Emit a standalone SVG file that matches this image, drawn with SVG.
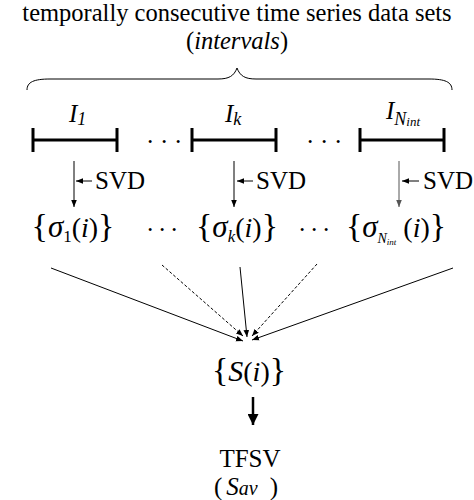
<svg xmlns="http://www.w3.org/2000/svg" width="474" height="500" viewBox="0 0 474 500">
  <defs>
    <style>
      text { font-family: "Liberation Serif", "Times New Roman", serif; fill: #000; }
      .title { font-size: 24.5px; text-anchor: middle; }
      .lbl { font-size: 25px; }
      .math { font-size: 28px; text-anchor: middle; }
      .br { font-size: 34px; }
      .gr { font-size: 31px; font-style: italic; }
      .it { font-style: italic; }
      .bar { stroke: #000; stroke-width: 3; fill: none; }
      .thin { stroke: #000; stroke-width: 1; fill: none; }
      .dash { stroke: #000; stroke-width: 1; fill: none; stroke-dasharray: 3 2; }
    </style>
    <marker id="ah" viewBox="0 0 10 10" refX="10" refY="5" markerWidth="7" markerHeight="7" markerUnits="userSpaceOnUse" orient="auto">
      <path d="M0,1 L10,5 L0,9 Z" fill="#000"/>
    </marker>
    <marker id="ahGray" viewBox="0 0 10 10" refX="10" refY="5" markerWidth="7" markerHeight="7" markerUnits="userSpaceOnUse" orient="auto">
      <path d="M0,1 L10,5 L0,9 Z" fill="#555"/>
    </marker>
    <marker id="ahBig" viewBox="0 0 10 10" refX="10" refY="5" markerWidth="12" markerHeight="11" markerUnits="userSpaceOnUse" orient="auto">
      <path d="M0,0 L10,5 L0,10 Z" fill="#000"/>
    </marker>
  </defs>

  <!-- heading and brace -->
  <g id="heading">
    <text class="title" x="237" y="21">temporally consecutive time series data sets</text>
    <text class="title" x="237" y="49">(<tspan class="it">intervals</tspan>)</text>
    <path class="thin" stroke-width="1.3" d="M27,90 C27,82 34,79 50,79 L218,79 C229,79 234,76 237,68 C240,76 245,79 256,79 L429,79 C445,79 452,82 452,90"/>
  </g>

  <!-- intervals -->
  <g id="interval-1">
    <text class="lbl it" x="69" y="122" font-size="26">I<tspan font-size="18" dy="3">1</tspan></text>
    <path class="bar" d="M33,140 H117 M33,128 V152 M117,128 V152"/>
  </g>
  <g id="interval-k">
    <text class="lbl it" x="225" y="122" font-size="26">I<tspan font-size="18" dy="3">k</tspan></text>
    <path class="bar" d="M192,140 H276 M192,128 V152 M276,128 V152"/>
  </g>
  <g id="interval-n">
    <text class="lbl it" x="386" y="119" font-size="26">I<tspan font-size="18" dy="6">N</tspan><tspan font-size="13" dy="1">int</tspan></text>
    <path class="bar" d="M360,140 H444 M360,128 V152 M444,128 V152"/>
  </g>
  <g id="dots-top">
    <text class="lbl" x="146 160 174" y="150">···</text>
    <text class="lbl" x="306 320 334" y="150">···</text>
  </g>

  <!-- singular value sets -->
  <g id="sigma-1">
    <text class="math" x="73" y="237"><tspan class="br">{</tspan><tspan class="gr">σ</tspan><tspan font-size="17" dy="5">1</tspan><tspan dy="-5">(</tspan><tspan class="it">i</tspan>)<tspan class="br">}</tspan></text>
  </g>
  <g id="sigma-k">
    <text class="math" x="237" y="237"><tspan class="br">{</tspan><tspan class="gr">σ</tspan><tspan class="it" font-size="17" dy="5">k</tspan><tspan dy="-5">(</tspan><tspan class="it">i</tspan>)<tspan class="br">}</tspan></text>
  </g>
  <g id="sigma-n">
    <text class="math" x="396" y="237"><tspan class="br">{</tspan><tspan class="gr">σ</tspan><tspan class="it" font-size="14" dy="6">N</tspan><tspan class="it" font-size="9" dy="2">int</tspan><tspan dy="-8"> (</tspan><tspan class="it">i</tspan>)<tspan class="br">}</tspan></text>
  </g>
  <g id="dots-mid">
    <text class="lbl" x="146 158 170" y="238">···</text>
    <text class="lbl" x="298 310 322" y="238">···</text>
  </g>

  <!-- combined set and result -->
  <g id="s-set">
    <text class="math" x="249" y="381"><tspan class="br">{</tspan><tspan class="it" font-size="30">S</tspan>(<tspan class="it">i</tspan>)<tspan class="br">}</tspan></text>
  </g>
  <g id="tfsv">
    <text class="lbl" x="250" y="467" text-anchor="middle" font-size="24">TFSV</text>
    <text class="lbl" x="214" y="495">(<tspan class="it" dx="4">S</tspan><tspan class="it" font-size="20">av</tspan><tspan dx="12">)</tspan></text>
  </g>

  <!-- SVD labels -->
  <g id="svd-labels">
    <text class="lbl" x="95" y="189">SVD</text>
    <text class="lbl" x="256" y="189">SVD</text>
    <text class="lbl" x="423" y="189">SVD</text>
  </g>

  <!-- connectors -->
  <g id="connectors">
    <line class="thin" x1="74" y1="161" x2="74" y2="207" marker-end="url(#ah)"/>
    <line class="thin" x1="92" y1="181" x2="76" y2="181" marker-end="url(#ah)"/>
    <line class="thin" x1="234" y1="161" x2="234" y2="207" marker-end="url(#ah)"/>
    <line class="thin" x1="253" y1="181" x2="237" y2="181" marker-end="url(#ah)"/>
    <line x1="399" y1="161" x2="399" y2="207" stroke="#555" stroke-width="1" marker-end="url(#ahGray)"/>
    <line class="thin" x1="419" y1="181" x2="402" y2="181" marker-end="url(#ah)"/>

    <line class="thin" x1="51" y1="268" x2="243" y2="341" marker-end="url(#ah)"/>
    <line class="dash" x1="162" y1="265" x2="243" y2="336" marker-end="url(#ah)"/>
    <line class="thin" x1="240" y1="267" x2="247" y2="337" marker-end="url(#ah)"/>
    <line class="dash" x1="317" y1="264" x2="252" y2="336" marker-end="url(#ah)"/>
    <line class="thin" x1="453" y1="268" x2="252" y2="340" marker-end="url(#ah)"/>

    <line x1="253" y1="397" x2="253" y2="425" stroke="#000" stroke-width="2.5" marker-end="url(#ahBig)"/>
  </g>
</svg>
